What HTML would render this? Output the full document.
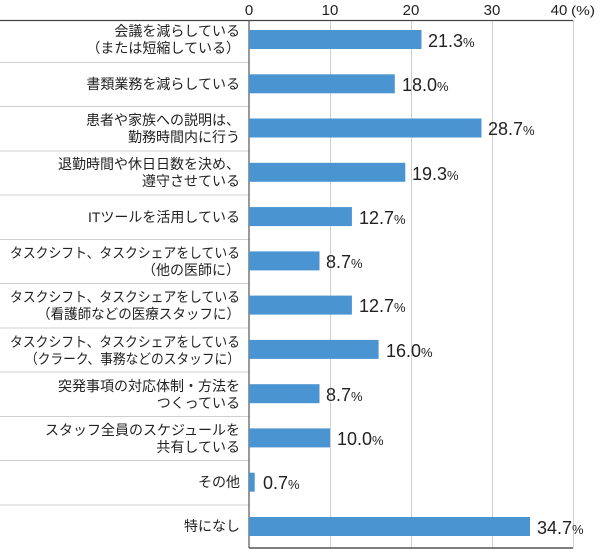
<!DOCTYPE html>
<html><head><meta charset="utf-8"><style>
body{margin:0;background:#fff;}
svg{display:block;font-family:"Liberation Sans","Noto Sans CJK JP",sans-serif;}
</style></head><body>
<svg width="600" height="558" viewBox="0 0 600 558">
<g stroke="#cfcfcf" stroke-width="1">
<line x1="330.5" y1="20" x2="330.5" y2="548"/>
<line x1="411.5" y1="20" x2="411.5" y2="548"/>
<line x1="492.5" y1="20" x2="492.5" y2="548"/>
<line x1="573.5" y1="20" x2="573.5" y2="548"/>
<line x1="0" y1="62.5" x2="249" y2="62.5"/>
<line x1="0" y1="106.5" x2="249" y2="106.5"/>
<line x1="0" y1="151" x2="249" y2="151"/>
<line x1="0" y1="195" x2="249" y2="195"/>
<line x1="0" y1="239.5" x2="249" y2="239.5"/>
<line x1="0" y1="283.5" x2="249" y2="283.5"/>
<line x1="0" y1="328" x2="249" y2="328"/>
<line x1="0" y1="372" x2="249" y2="372"/>
<line x1="0" y1="416.5" x2="249" y2="416.5"/>
<line x1="0" y1="460.5" x2="249" y2="460.5"/>
<line x1="0" y1="505" x2="249" y2="505"/>
</g>
<line x1="0" y1="20.5" x2="573" y2="20.5" stroke="#444" stroke-width="1.2"/>
<line x1="249" y1="20" x2="249" y2="548" stroke="#555" stroke-width="1.2"/>
<line x1="249" y1="548" x2="573" y2="548" stroke="#555" stroke-width="1.5"/>
<g font-size="15" fill="#222" text-anchor="middle">
<text x="249" y="15">0</text><text x="330" y="15">10</text><text x="411" y="15">20</text><text x="492" y="15">30</text><text x="559" y="15">40</text>
<text x="571" y="15" font-size="13" text-anchor="start" textLength="24" lengthAdjust="spacingAndGlyphs">(%)</text>
</g>
<g fill="#4a94d2">
<rect x="249" y="30" width="172.5" height="19"/>
<rect x="249" y="74.3" width="145.8" height="19"/>
<rect x="249" y="118.5" width="232.5" height="19"/>
<rect x="249" y="162.8" width="156.3" height="19"/>
<rect x="249" y="207.1" width="102.9" height="19"/>
<rect x="249" y="251.4" width="70.5" height="19"/>
<rect x="249" y="295.6" width="102.9" height="19"/>
<rect x="249" y="339.9" width="129.6" height="19"/>
<rect x="249" y="384.2" width="70.5" height="19"/>
<rect x="249" y="428.4" width="81" height="19"/>
<rect x="249" y="472.7" width="5.7" height="19"/>
<rect x="249" y="517" width="281" height="19"/>
</g>
<g font-size="18" fill="#222">
<text x="428" y="47">21.3<tspan font-size="13">%</tspan></text>
<text x="402" y="91">18.0<tspan font-size="13">%</tspan></text>
<text x="488" y="135">28.7<tspan font-size="13">%</tspan></text>
<text x="412" y="180">19.3<tspan font-size="13">%</tspan></text>
<text x="359" y="224">12.7<tspan font-size="13">%</tspan></text>
<text x="326" y="268">8.7<tspan font-size="13">%</tspan></text>
<text x="359" y="312">12.7<tspan font-size="13">%</tspan></text>
<text x="386" y="357">16.0<tspan font-size="13">%</tspan></text>
<text x="326" y="401">8.7<tspan font-size="13">%</tspan></text>
<text x="337" y="445">10.0<tspan font-size="13">%</tspan></text>
<text x="263" y="489">0.7<tspan font-size="13">%</tspan></text>
<text x="537" y="534">34.7<tspan font-size="13">%</tspan></text>
</g>
<g font-size="14" fill="#222" text-anchor="end">
<text x="240" y="36">会議を減らしている</text>
<text x="240" y="53">（または短縮している）</text>
<text x="240" y="89">書類業務を減らしている</text>
<text x="240" y="125">患者や家族への説明は、</text>
<text x="240" y="142">勤務時間内に行う</text>
<text x="240" y="169">退勤時間や休日日数を決め、</text>
<text x="240" y="186">遵守させている</text>
<text x="240" y="222">ITツールを活用している</text>
<text x="240" y="258" textLength="230" lengthAdjust="spacingAndGlyphs">タスクシフト、タスクシェアをしている</text>
<text x="240" y="275">（他の医師に）</text>
<text x="240" y="302" textLength="230" lengthAdjust="spacingAndGlyphs">タスクシフト、タスクシェアをしている</text>
<text x="240" y="319" textLength="203" lengthAdjust="spacingAndGlyphs">（看護師などの医療スタッフに）</text>
<text x="240" y="347" textLength="230" lengthAdjust="spacingAndGlyphs">タスクシフト、タスクシェアをしている</text>
<text x="240" y="364" textLength="215" lengthAdjust="spacingAndGlyphs">（クラーク、事務などのスタッフに）</text>
<text x="240" y="391">突発事項の対応体制・方法を</text>
<text x="240" y="408">つくっている</text>
<text x="240" y="435">スタッフ全員のスケジュールを</text>
<text x="240" y="452">共有している</text>
<text x="240" y="487">その他</text>
<text x="240" y="531">特になし</text>
</g>
</svg>
</body></html>
